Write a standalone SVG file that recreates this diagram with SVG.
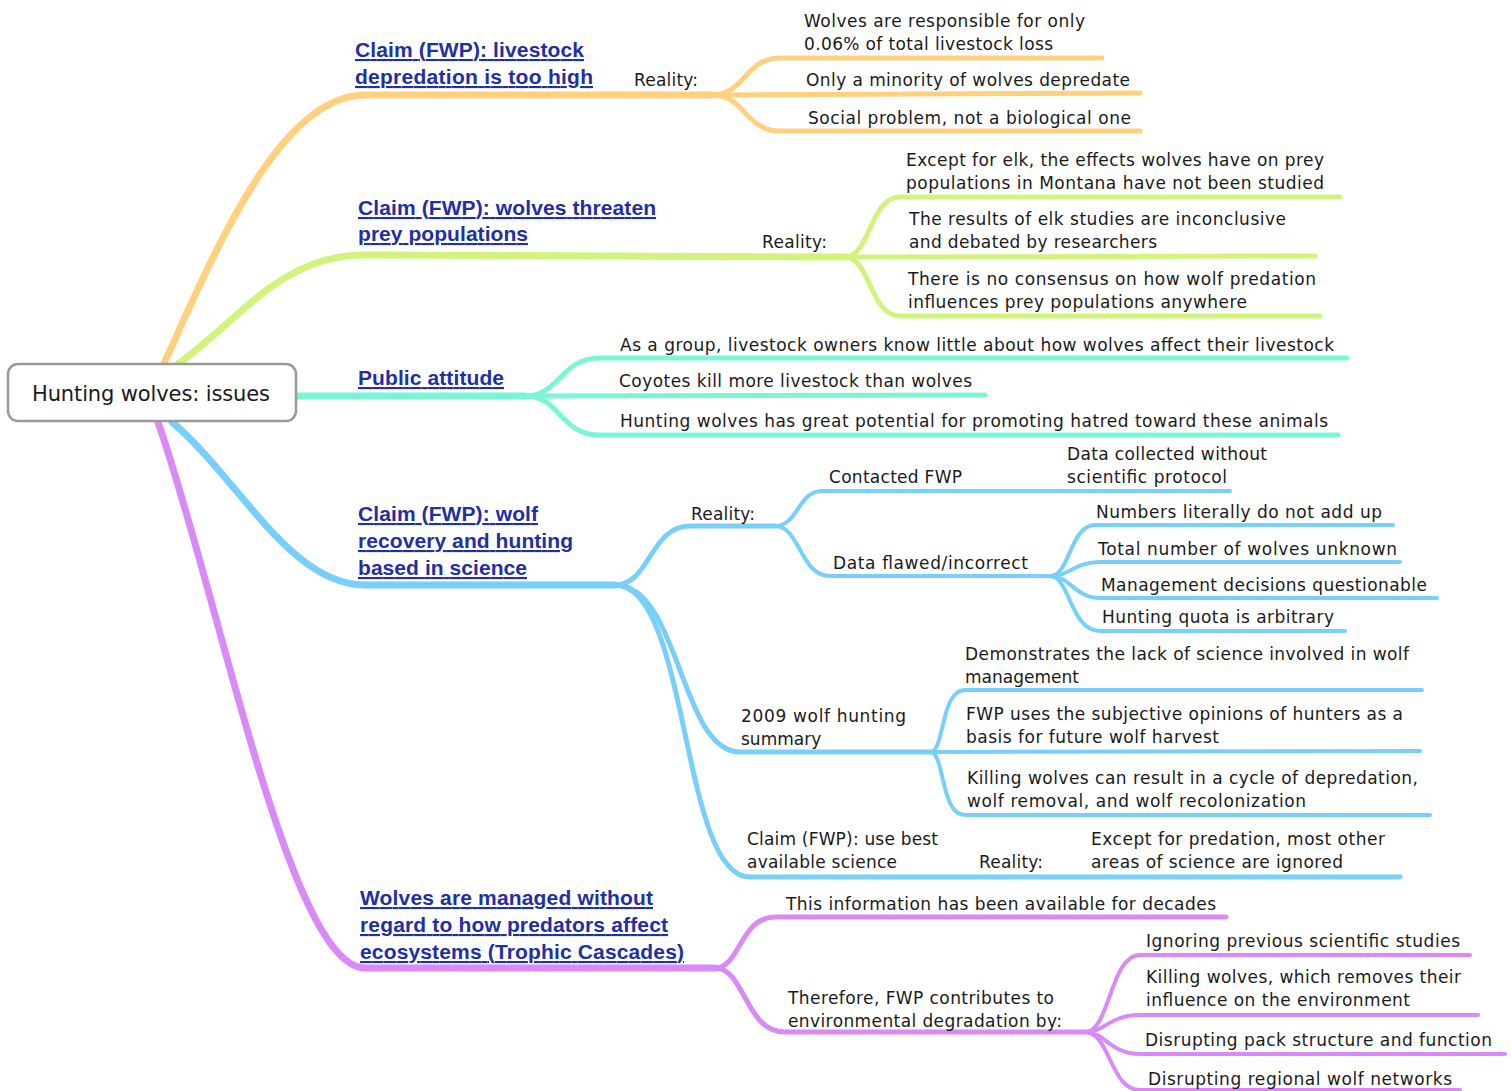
<svg xmlns="http://www.w3.org/2000/svg" width="1511" height="1091" viewBox="0 0 1511 1091">
<style>
.c{fill:none;stroke-linecap:round;stroke-linejoin:round}
.w1{stroke-width:7}.w2{stroke-width:5}.w3{stroke-width:4}
.or{stroke:#FFD07E}.li{stroke:#D2F47C}.te{stroke:#7AF6D6}.bl{stroke:#78CFFA}.pu{stroke:#D98AF7}
.t{font-family:"DejaVu Sans","Noto Sans",sans-serif;font-size:17px;fill:#1a1a1a}
.k{font-family:"Liberation Sans",Arial,sans-serif;font-size:21px;font-weight:bold;fill:#1f2fa6;text-decoration:underline}
.r{font-family:"DejaVu Sans","Noto Sans",sans-serif;font-size:21px;fill:#1a1a1a}
</style>
<rect width="1511" height="1091" fill="#ffffff"/>
<g id="connectors">
<path class="c w1 or" d="M163,366 C215,250 280,95 365,95 L712,95"/>
<path class="c w2 or" d="M712,95 C745,95 745,58 780,58 L1102,58"/>
<path class="c w2 or" d="M712,95 L1140,93"/>
<path class="c w2 or" d="M712,95 C745,95 745,131 780,131 L1140,131"/>
<path class="c w1 li" d="M178,364 C240,320 280,255 365,255 L845,257"/>
<path class="c w2 li" d="M845,257 C870,257 870,197 900,197 L1340,197"/>
<path class="c w2 li" d="M845,257 L1315,256"/>
<path class="c w2 li" d="M845,257 C870,257 870,316 900,316 L1320,316"/>
<path class="c w1 te" d="M296,396 L525,396"/>
<path class="c w2 te" d="M525,396 C560,396 560,358 600,358 L1347,358"/>
<path class="c w2 te" d="M525,396 L985,395"/>
<path class="c w2 te" d="M525,396 C560,396 560,435 600,435 L1338,435"/>
<path class="c w1 bl" d="M172,422 C240,480 290,585 365,585 L615,585"/>
<path class="c w2 bl" d="M615,585 C650,585 650,526 690,526 L775,526"/>
<path class="c w3 bl" d="M775,526 C798,526 798,491 822,491 L1230,491"/>
<path class="c w3 bl" d="M775,526 C800,526 800,576 830,576 L1050,576"/>
<path class="c w3 bl" d="M1050,576 C1070,576 1070,525 1095,525 L1393,525"/>
<path class="c w3 bl" d="M1050,576 C1070,576 1075,562 1100,562 L1400,562"/>
<path class="c w3 bl" d="M1050,576 C1070,576 1075,598 1100,598 L1437,598"/>
<path class="c w3 bl" d="M1050,576 C1070,576 1070,631 1100,631 L1345,631"/>
<path class="c w2 bl" d="M615,585 C680,585 680,752 740,752 L930,752"/>
<path class="c w3 bl" d="M930,752 C945,752 940,690 965,690 L1422,690"/>
<path class="c w3 bl" d="M930,752 L1420,751"/>
<path class="c w3 bl" d="M930,752 C945,752 940,815 965,815 L1430,815"/>
<path class="c w2 bl" d="M615,585 C690,585 680,877 750,877 L1400,877"/>
<path class="c w1 pu" d="M158,422 C220,600 290,968 365,968 L715,968"/>
<path class="c w2 pu" d="M715,968 C740,968 740,917 775,917 L1226,917"/>
<path class="c w2 pu" d="M715,968 C745,968 745,1032 785,1032 L1085,1032"/>
<path class="c w3 pu" d="M1085,1032 C1110,1032 1110,955 1140,955 L1470,955"/>
<path class="c w3 pu" d="M1085,1032 C1105,1032 1110,1015 1140,1015 L1478,1015"/>
<path class="c w3 pu" d="M1085,1032 C1105,1032 1110,1054 1140,1054 L1505,1054"/>
<path class="c w3 pu" d="M1085,1032 C1110,1032 1110,1090 1140,1090 L1460,1090"/>
</g>
<g id="root">
<rect x="8" y="364" width="288" height="57" rx="10" fill="#ffffff" stroke="#9a9a9a" stroke-width="2.5"/>
<text class="r" x="32" y="401" textLength="238">Hunting wolves: issues</text>
</g>
<g id="n-livestock">
<text class="k" x="355" y="57" textLength="229">Claim (FWP): livestock</text>
<text class="k" x="355" y="84" textLength="238">depredation is too high</text>
</g>
<g id="n-livestock-reality"><text class="t" x="634" y="86" textLength="64">Reality:</text></g>
<g id="n-l1"><text class="t" x="804" y="27" textLength="281">Wolves are responsible for only</text><text class="t" x="804" y="50" textLength="249">0.06% of total livestock loss</text></g>
<g id="n-l2"><text class="t" x="806" y="86" textLength="324">Only a minority of wolves depredate</text></g>
<g id="n-l3"><text class="t" x="808" y="124" textLength="323">Social problem, not a biological one</text></g>
<g id="n-prey">
<text class="k" x="358" y="215" textLength="298">Claim (FWP): wolves threaten</text>
<text class="k" x="358" y="241" textLength="170">prey populations</text>
</g>
<g id="n-prey-reality"><text class="t" x="762" y="248" textLength="65">Reality:</text></g>
<g id="n-p1"><text class="t" x="906" y="166" textLength="418">Except for elk, the effects wolves have on prey</text><text class="t" x="906" y="189" textLength="418">populations in Montana have not been studied</text></g>
<g id="n-p2"><text class="t" x="909" y="225" textLength="377">The results of elk studies are inconclusive</text><text class="t" x="909" y="248" textLength="248">and debated by researchers</text></g>
<g id="n-p3"><text class="t" x="908" y="285" textLength="408">There is no consensus on how wolf predation</text><text class="t" x="908" y="308" textLength="339">influences prey populations anywhere</text></g>
<g id="n-public"><text class="k" x="358" y="385" textLength="146">Public attitude</text></g>
<g id="n-a1"><text class="t" x="620" y="351" textLength="714">As a group, livestock owners know little about how wolves affect their livestock</text></g>
<g id="n-a2"><text class="t" x="619" y="387" textLength="353">Coyotes kill more livestock than wolves</text></g>
<g id="n-a3"><text class="t" x="620" y="427" textLength="708">Hunting wolves has great potential for promoting hatred toward these animals</text></g>
<g id="n-science">
<text class="k" x="358" y="521" textLength="180">Claim (FWP): wolf</text>
<text class="k" x="358" y="548" textLength="215">recovery and hunting</text>
<text class="k" x="358" y="575" textLength="169">based in science</text>
</g>
<g id="n-s-reality"><text class="t" x="691" y="520" textLength="64">Reality:</text></g>
<g id="n-contacted"><text class="t" x="829" y="483" textLength="133">Contacted FWP</text></g>
<g id="n-protocol"><text class="t" x="1067" y="460" textLength="200">Data collected without</text><text class="t" x="1067" y="483" textLength="160">scientific protocol</text></g>
<g id="n-flawed"><text class="t" x="833" y="569" textLength="195">Data flawed/incorrect</text></g>
<g id="n-f1"><text class="t" x="1096" y="518" textLength="286">Numbers literally do not add up</text></g>
<g id="n-f2"><text class="t" x="1098" y="555" textLength="299">Total number of wolves unknown</text></g>
<g id="n-f3"><text class="t" x="1101" y="591" textLength="326">Management decisions questionable</text></g>
<g id="n-f4"><text class="t" x="1102" y="623" textLength="232">Hunting quota is arbitrary</text></g>
<g id="n-2009"><text class="t" x="741" y="722" textLength="165">2009 wolf hunting</text><text class="t" x="741" y="745">summary</text></g>
<g id="n-h1"><text class="t" x="965" y="660" textLength="444">Demonstrates the lack of science involved in wolf</text><text class="t" x="965" y="683">management</text></g>
<g id="n-h2"><text class="t" x="966" y="720" textLength="437">FWP uses the subjective opinions of hunters as a</text><text class="t" x="966" y="743" textLength="253">basis for future wolf harvest</text></g>
<g id="n-h3"><text class="t" x="967" y="784" textLength="451">Killing wolves can result in a cycle of depredation,</text><text class="t" x="967" y="807" textLength="339">wolf removal, and wolf recolonization</text></g>
<g id="n-best"><text class="t" x="747" y="845" textLength="191">Claim (FWP): use best</text><text class="t" x="747" y="868" textLength="150">available science</text></g>
<g id="n-best-reality"><text class="t" x="979" y="868" textLength="64">Reality:</text></g>
<g id="n-b1"><text class="t" x="1091" y="845" textLength="294">Except for predation, most other</text><text class="t" x="1091" y="868" textLength="252">areas of science are ignored</text></g>
<g id="n-trophic">
<text class="k" x="360" y="905" textLength="293">Wolves are managed without</text>
<text class="k" x="360" y="932" textLength="308">regard to how predators affect</text>
<text class="k" x="360" y="959" textLength="324">ecosystems (Trophic Cascades)</text>
</g>
<g id="n-decades"><text class="t" x="786" y="910" textLength="430">This information has been available for decades</text></g>
<g id="n-therefore"><text class="t" x="788" y="1004" textLength="266">Therefore, FWP contributes to</text><text class="t" x="788" y="1027" textLength="274">environmental degradation by:</text></g>
<g id="n-d1"><text class="t" x="1146" y="947" textLength="314">Ignoring previous scientific studies</text></g>
<g id="n-d2"><text class="t" x="1146" y="983" textLength="315">Killing wolves, which removes their</text><text class="t" x="1146" y="1006" textLength="264">influence on the environment</text></g>
<g id="n-d3"><text class="t" x="1145" y="1046" textLength="347">Disrupting pack structure and function</text></g>
<g id="n-d4"><text class="t" x="1148" y="1085" textLength="304">Disrupting regional wolf networks</text></g>
</svg>
